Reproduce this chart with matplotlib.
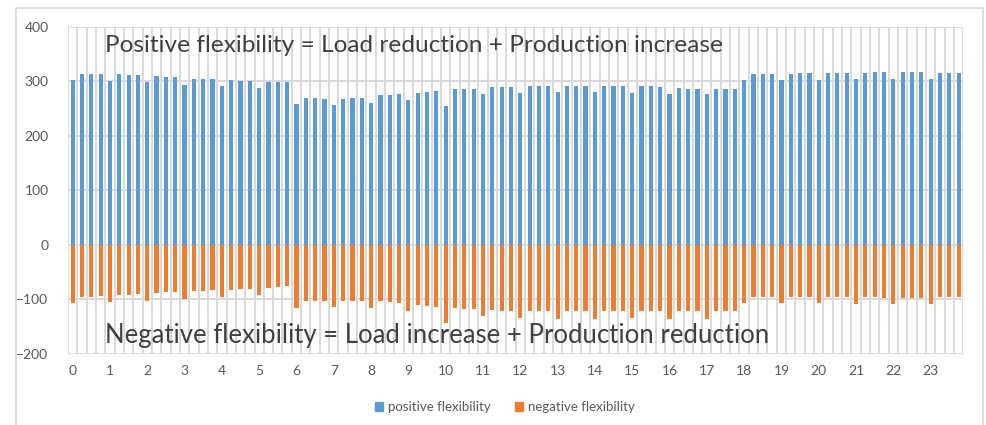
import matplotlib
matplotlib.use("Agg")
import matplotlib.pyplot as plt
from matplotlib.patches import Rectangle, Patch

plt.rcParams['font.family'] = ['Lato', 'DejaVu Sans']

hours = [str(h) for h in range(24)]

# 4 quarter-hour values per hour
positive = [
    303, 314, 314, 313,
    301, 313, 311, 311,
    298, 310, 308, 307,
    294, 305, 305, 304,
    291, 302, 301, 301,
    288, 299, 298, 298,
    258, 269, 269, 268,
    256, 268, 269, 269,
    260, 274, 275, 276,
    266, 279, 281, 282,
    255, 285, 286, 286,
    276, 289, 289, 289,
    278, 291, 291, 291,
    280, 291, 291, 291,
    280, 291, 291, 291,
    278, 291, 291, 289,
    276, 288, 286, 286,
    276, 286, 286, 286,
    302, 314, 314, 314,
    302, 314, 315, 315,
    302, 315, 315, 315,
    304, 315, 317, 317,
    304, 317, 317, 317,
    304, 315, 315, 315,
]

negative = [
    -107, -95, -95, -93,
    -104, -91, -91, -90,
    -102, -88, -87, -87,
    -99, -85, -85, -83,
    -95, -82, -80, -80,
    -91, -79, -77, -76,
    -116, -103, -102, -102,
    -113, -102, -102, -103,
    -115, -103, -104, -106,
    -121, -110, -112, -113,
    -144, -116, -118, -118,
    -130, -119, -121, -121,
    -134, -122, -122, -122,
    -135, -122, -122, -122,
    -135, -122, -122, -122,
    -134, -122, -121, -121,
    -135, -122, -122, -122,
    -135, -122, -122, -122,
    -106, -95, -95, -95,
    -107, -95, -95, -95,
    -107, -96, -96, -96,
    -109, -96, -96, -98,
    -109, -98, -98, -98,
    -109, -96, -96, -96,
]

blue = '#5b9bd5'
orange = '#ed7d31'
grid_c = '#d9d9d9'
text_c = '#595959'

W, H = 986, 425
fig = plt.figure(figsize=(W / 100, H / 100), dpi=100)

# outer chart border
fig.patches.append(Rectangle((16 / W, -0.05), (983 - 16) / W, (H - 8) / H + 0.05,
                             transform=fig.transFigure, fill=False,
                             edgecolor=grid_c, linewidth=1.2))

ax = fig.add_axes([68 / W, (H - 354) / H, (963.3 - 68) / W, (354 - 26.7) / H])

n = len(positive)
x = list(range(n))
ax.bar(x, positive, width=0.45, color=blue, zorder=3)
ax.bar(x, negative, width=0.45, color=orange, zorder=3)

ax.set_xlim(-0.5, n - 0.5)
ax.set_ylim(-200, 400)
ax.set_yticks(range(-200, 401, 100))
ax.set_xticks(range(0, n, 4))
ax.set_xticklabels(hours)
ax.set_xticks([i - 0.5 for i in range(n + 1)], minor=True)
ax.tick_params(axis='x', which='minor', length=0)
ax.tick_params(axis='both', which='major', length=0, labelsize=10,
               labelcolor=text_c, pad=8)
ax.tick_params(axis='y', pad=14)

ax.grid(True, which='minor', axis='x', color=grid_c, linewidth=1.4, zorder=0)
ax.grid(True, which='major', axis='y', color=grid_c, linewidth=1.4, zorder=0)
for s in ax.spines.values():
    s.set_visible(False)

ax.text(3.5, 365, 'Positive flexibility = Load reduction + Production increase',
        fontsize=17.6, color='#404040', va='center', ha='left', zorder=4)
ax.text(3.5, -166, 'Negative flexibility = Load increase + Production reduction',
        fontsize=18.5, color='#404040', va='center', ha='left', zorder=4)

handles = [Patch(color=blue, label='positive flexibility'),
           Patch(color=orange, label='negative flexibility')]
fig.legend(handles=handles, loc='center', bbox_to_anchor=(505 / W, (H - 407) / H),
           ncol=2, frameon=False, fontsize=9.5, labelcolor=text_c,
           handlelength=0.6, handleheight=0.6, handletextpad=0.4, columnspacing=1.8)

fig.savefig('out.png', dpi=100)
